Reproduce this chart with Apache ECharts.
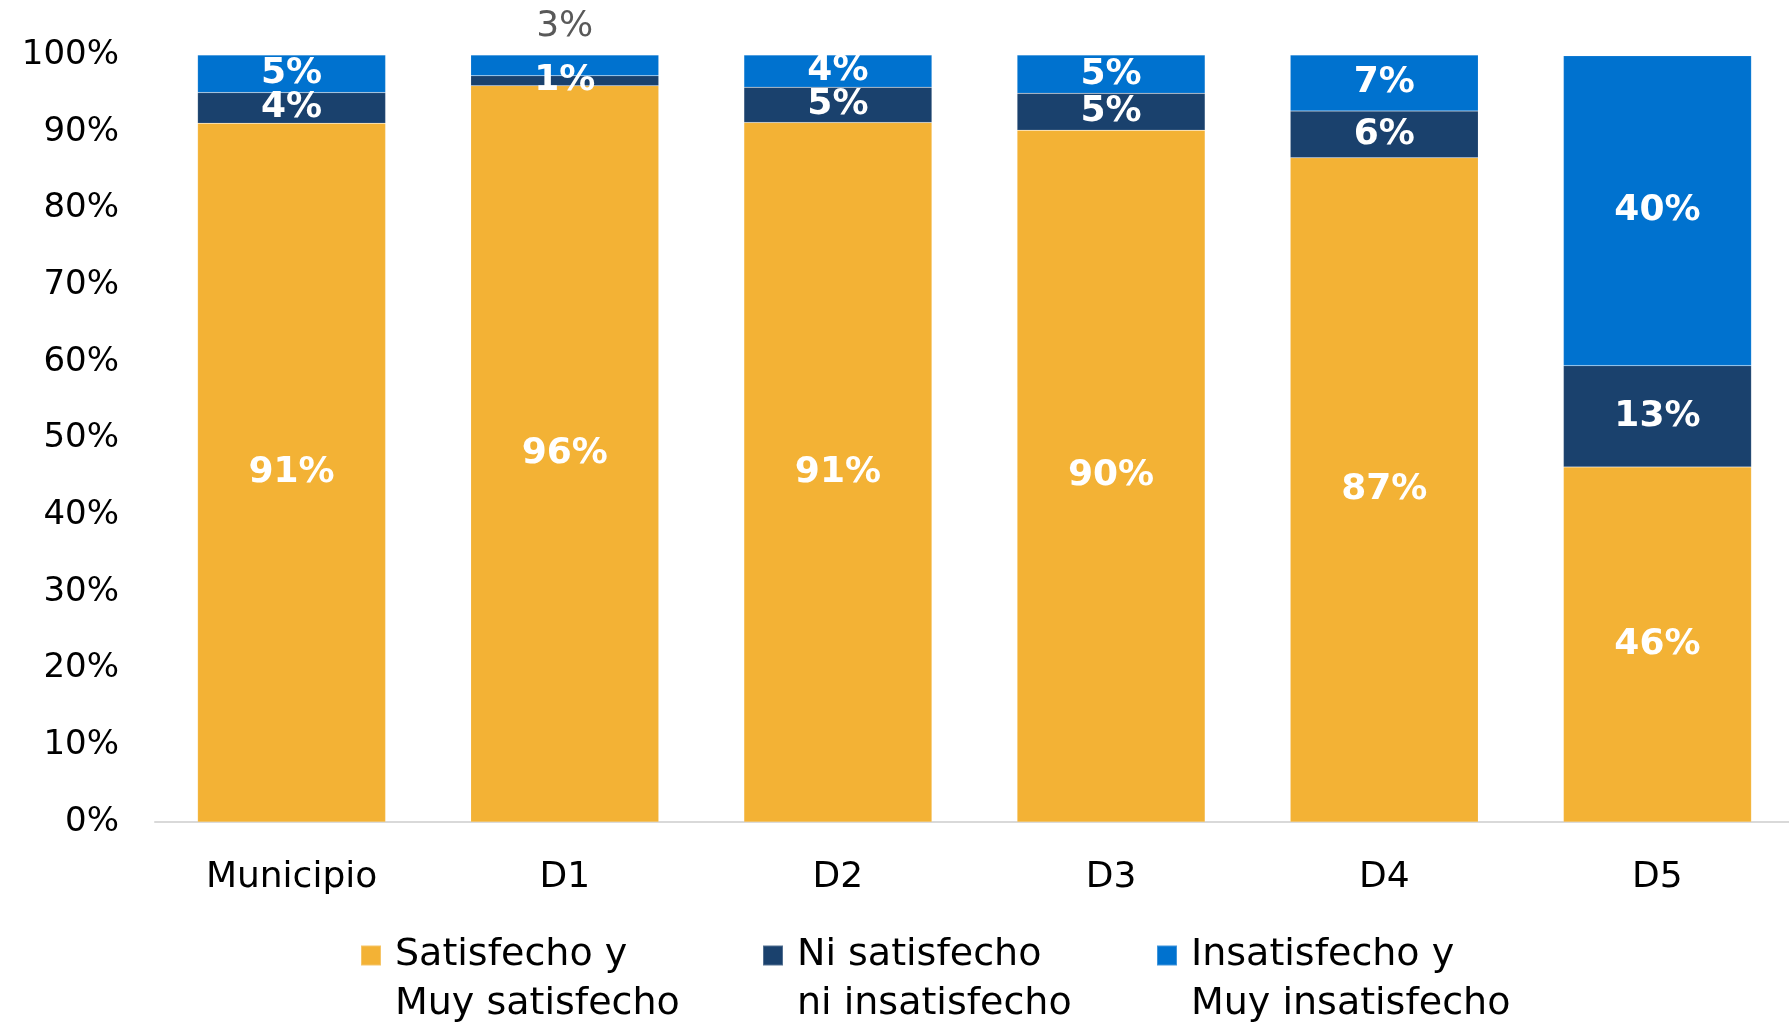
<!DOCTYPE html>
<html>
<head>
<meta charset="utf-8">
<script src="https://cdn.jsdelivr.net/npm/echarts@6/dist/echarts.min.js"></script>
<style>
  html, body { margin: 0; padding: 0; background: #fff; }
  #chart { width: 1789px; height: 1025px; }
</style>
</head>
<body>
<div id="chart"></div>
<script>
// categories and shares (percent)
const categories = ['Municipio', 'D1', 'D2', 'D3', 'D4', 'D5']
const satisfecho = [91.1, 96.0, 91.2, 90.2, 86.6, 46.3]
const neutral = [4.0, 1.3, 4.6, 4.8, 6.1, 13.2]
const insatisfecho = [4.9, 2.7, 4.2, 5.0, 7.3, 40.4]
const seriesNames = ['Satisfecho y\nMuy satisfecho', 'Ni satisfecho\nni insatisfecho', 'Insatisfecho y\nMuy insatisfecho']
const colors = ['#F3B235', '#1A416D', '#0072CF']
// bars whose label sits above the bar instead of inside
const labelOnTop = ['D1']

const font = 'DejaVu Sans'
const chart = echarts.init(document.getElementById('chart'))

function makeSeries (name, values, color, isTop) {
  return {
    name: name,
    type: 'bar',
    stack: 'total',
    barWidth: 188,
    itemStyle: { color: color, borderColor: 'rgba(255,255,255,0.25)', borderWidth: 0.5 },
    label: {
      show: true,
      position: 'inside',
      color: '#fff',
      fontFamily: font,
      fontSize: 36,
      fontWeight: 'bold',
      formatter: p => Math.round(p.value) + '%'
    },
    data: values.map((v, i) => {
      if (isTop && labelOnTop.includes(categories[i])) {
        return { value: v, label: { position: 'top', distance: 10, color: '#595959', fontWeight: 'normal' } }
      }
      return v
    })
  }
}

const legendLefts = [355, 757, 1151]

const option = {
  animation: false,
  color: colors,
  grid: { left: 155, width: 1639, top: 55, bottom: 203, outerBoundsMode: 'none' },
  // one legend per item so each sits where the reference has it;
  // the leading blank line keeps the square level with the first text line
  legend: seriesNames.map((n, i) => ({
    data: [n],
    left: legendLefts[i],
    top: 877,
    itemWidth: 20,
    itemHeight: 20,
    icon: 'rect',
    formatter: name => '\n' + name,
    textStyle: {
      fontFamily: font,
      fontSize: 38,
      lineHeight: 49,
      color: '#000',
      padding: [0, 0, 0, 9]
    }
  })),
  xAxis: {
    type: 'category',
    data: categories,
    axisTick: { show: false },
    axisLine: { lineStyle: { color: '#d9d9d9', width: 2 } },
    axisLabel: { fontFamily: font, fontSize: 36, color: '#000', margin: 38 }
  },
  yAxis: {
    type: 'value',
    min: 0,
    max: 100,
    interval: 10,
    splitLine: { show: false },
    axisLine: { show: false },
    axisTick: { show: false },
    axisLabel: { fontFamily: font, fontSize: 34, color: '#000', margin: 36, formatter: '{value}%' }
  },
  series: [
    makeSeries(seriesNames[0], satisfecho, colors[0], false),
    makeSeries(seriesNames[1], neutral, colors[1], false),
    makeSeries(seriesNames[2], insatisfecho, colors[2], true)
  ]
}

chart.setOption(option)
</script>
</body>
</html>
